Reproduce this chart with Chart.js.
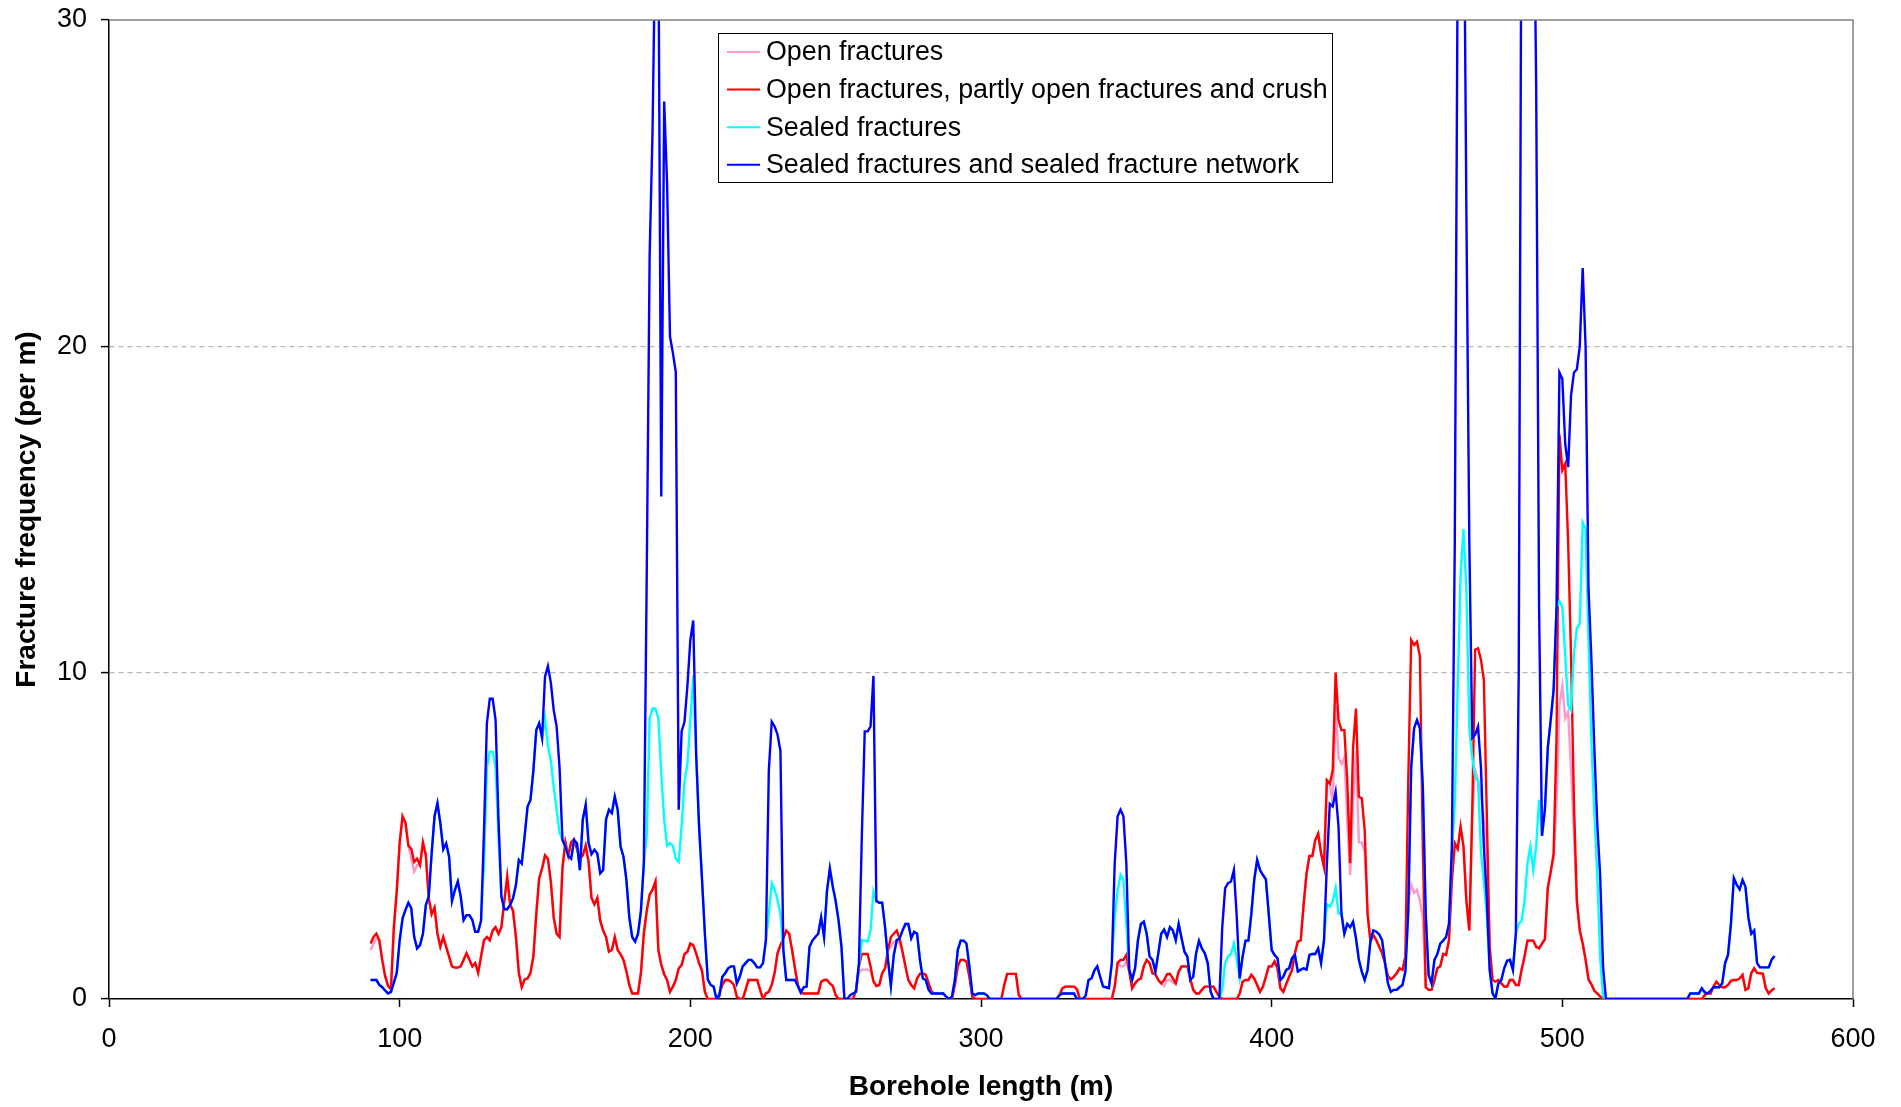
<!DOCTYPE html>
<html>
<head>
<meta charset="utf-8">
<script src="https://cdn.jsdelivr.net/npm/chart.js@4.4.1/dist/chart.umd.min.js"></script>
<style>
html, body { margin: 0; padding: 0; background: #fff; }
#wrap { width: 1901px; height: 1107px; }
</style>
</head>
<body>
<div id="wrap"><canvas id="chart" width="1901" height="1107"></canvas></div>
<script>
// Borehole length (m), one sample per metre
const depths = [
    90, 91, 92, 93, 94, 95, 96, 97, 98, 99,
    100, 101, 102, 103, 104, 105, 106, 107, 108, 109,
    110, 111, 112, 113, 114, 115, 116, 117, 118, 119,
    120, 121, 122, 123, 124, 125, 126, 127, 128, 129,
    130, 131, 132, 133, 134, 135, 136, 137, 138, 139,
    140, 141, 142, 143, 144, 145, 146, 147, 148, 149,
    150, 151, 152, 153, 154, 155, 156, 157, 158, 159,
    160, 161, 162, 163, 164, 165, 166, 167, 168, 169,
    170, 171, 172, 173, 174, 175, 176, 177, 178, 179,
    180, 181, 182, 183, 184, 185, 186, 187, 188, 189,
    190, 191, 192, 193, 194, 195, 196, 197, 198, 199,
    200, 201, 202, 203, 204, 205, 206, 207, 208, 209,
    210, 211, 212, 213, 214, 215, 216, 217, 218, 219,
    220, 221, 222, 223, 224, 225, 226, 227, 228, 229,
    230, 231, 232, 233, 234, 235, 236, 237, 238, 239,
    240, 241, 242, 243, 244, 245, 246, 247, 248, 249,
    250, 251, 252, 253, 254, 255, 256, 257, 258, 259,
    260, 261, 262, 263, 264, 265, 266, 267, 268, 269,
    270, 271, 272, 273, 274, 275, 276, 277, 278, 279,
    280, 281, 282, 283, 284, 285, 286, 287, 288, 289,
    290, 291, 292, 293, 294, 295, 296, 297, 298, 299,
    300, 301, 302, 303, 304, 305, 306, 307, 308, 309,
    310, 311, 312, 313, 314, 315, 316, 317, 318, 319,
    320, 321, 322, 323, 324, 325, 326, 327, 328, 329,
    330, 331, 332, 333, 334, 335, 336, 337, 338, 339,
    340, 341, 342, 343, 344, 345, 346, 347, 348, 349,
    350, 351, 352, 353, 354, 355, 356, 357, 358, 359,
    360, 361, 362, 363, 364, 365, 366, 367, 368, 369,
    370, 371, 372, 373, 374, 375, 376, 377, 378, 379,
    380, 381, 382, 383, 384, 385, 386, 387, 388, 389,
    390, 391, 392, 393, 394, 395, 396, 397, 398, 399,
    400, 401, 402, 403, 404, 405, 406, 407, 408, 409,
    410, 411, 412, 413, 414, 415, 416, 417, 418, 419,
    420, 421, 422, 423, 424, 425, 426, 427, 428, 429,
    430, 431, 432, 433, 434, 435, 436, 437, 438, 439,
    440, 441, 442, 443, 444, 445, 446, 447, 448, 449,
    450, 451, 452, 453, 454, 455, 456, 457, 458, 459,
    460, 461, 462, 463, 464, 465, 466, 467, 468, 469,
    470, 471, 472, 473, 474, 475, 476, 477, 478, 479,
    480, 481, 482, 483, 484, 485, 486, 487, 488, 489,
    490, 491, 492, 493, 494, 495, 496, 497, 498, 499,
    500, 501, 502, 503, 504, 505, 506, 507, 508, 509,
    510, 511, 512, 513, 514, 515, 516, 517, 518, 519,
    520, 521, 522, 523, 524, 525, 526, 527, 528, 529,
    530, 531, 532, 533, 534, 535, 536, 537, 538, 539,
    540, 541, 542, 543, 544, 545, 546, 547, 548, 549,
    550, 551, 552, 553, 554, 555, 556, 557, 558, 559,
    560, 561, 562, 563, 564, 565, 566, 567, 568, 569,
    570, 571, 572, 573
];

// Open fractures (pink)
const openFractures = [
    1.5, 1.7, 1.85, 1.8, 1.2, 0.7, 0.4, 0.3, 2.2, 3.3,
    4.8, 5.6, 5.4, 4.7, 4.3, 3.9, 4.1, 4.1, 4.8, 4.4,
    3.1, 2.6, 2.8, 2.0, 1.6, 1.9, 1.6, 1.3, 1.0, 0.96,
    0.96, 1.0, 1.2, 1.4, 1.2, 1.0, 1.1, 0.8, 1.3, 1.8,
    1.9, 1.8, 2.1, 2.2, 2.0, 2.2, 3.0, 3.75, 2.9, 2.7,
    1.9, 0.8, 0.36, 0.6, 0.63, 0.8, 1.3, 2.6, 3.7, 4.0,
    4.4, 4.3, 3.6, 2.5, 2.0, 1.9, 4.0, 4.8, 4.4, 4.8,
    4.9, 4.6, 4.3, 4.4, 4.7, 4.2, 3.1, 2.9, 3.1, 2.4,
    2.1, 1.9, 1.45, 1.5, 1.9, 1.5, 1.37, 1.2, 0.85, 0.43,
    0.17, 0.17, 0.17, 0.8, 2.0, 2.7, 3.2, 3.35, 3.6, 1.5,
    1.05, 0.76, 0.58, 0.22, 0.38, 0.58, 0.94, 1.04, 1.38, 1.45,
    1.7, 1.65, 1.4, 1.1, 0.87, 0.22, 0, 0, 0, 0,
    0.17, 0.43, 0.58, 0.58, 0.53, 0.43, 0.07, 0, 0, 0.28,
    0.58, 0.58, 0.58, 0.58, 0.28, 0, 0.17, 0.22, 0.43, 0.8,
    1.4, 1.65, 1.86, 2.1, 2.0, 1.5, 0.94, 0.43, 0.2, 0.17,
    0.17, 0.17, 0.17, 0.17, 0.17, 0.53, 0.58, 0.58, 0.48, 0.4,
    0.12, 0, 0, 0, 0, 0, 0, 0.28, 0.8, 0.9,
    0.9, 0.9, 0.85, 0.54, 0.4, 0.43, 0.79, 0.94, 1.5, 1.6,
    1.75, 1.8, 1.7, 1.45, 1.0, 0.58, 0.43, 0.33, 0.63, 0.77,
    0.79, 0.74, 0.48, 0.22, 0.17, 0.17, 0.17, 0.17, 0.07, 0,
    0, 0.43, 1.0, 1.2, 1.2, 1.15, 0.68, 0.07, 0, 0,
    0, 0, 0, 0, 0, 0, 0, 0, 0.43, 0.77,
    0.77, 0.77, 0.77, 0.12, 0, 0, 0, 0, 0, 0,
    0, 0, 0, 0, 0, 0, 0, 0.12, 0.33, 0.38,
    0.38, 0.38, 0.38, 0.3, 0, 0, 0, 0, 0, 0,
    0, 0, 0, 0, 0, 0, 0.38, 1.1, 1.0, 1.0,
    1.15, 0.84, 0.33, 0.48, 0.58, 0.63, 1.0, 1.2, 1.1, 0.79,
    0.76, 0.58, 0.48, 0.4, 0.58, 0.58, 0.5, 0.48, 0.84, 1.0,
    1.0, 1.0, 0.63, 0.28, 0.17, 0.17, 0.28, 0.38, 0.38, 0.38,
    0.38, 0.22, 0.07, 0, 0, 0, 0, 0, 0, 0.17,
    0.53, 0.58, 0.58, 0.74, 0.63, 0.43, 0.22, 0.38, 0.68, 1.0,
    1.0, 1.15, 0.94, 0.33, 0.22, 0.46, 0.68, 0.89, 1.4, 1.76,
    1.8, 2.9, 3.85, 4.38, 4.38, 4.87, 5.07, 4.46, 4.05, 6.7,
    6.6, 6.0, 9.0, 7.4, 7.2, 7.4, 5.5, 3.8, 6.0, 7.6,
    4.8, 4.8, 4.5, 2.6, 1.76, 1.96, 1.8, 1.6, 1.4, 1.1,
    0.7, 0.6, 0.68, 0.79, 0.94, 0.89, 1.3, 3.0, 3.5, 3.25,
    3.35, 3.0, 2.5, 0.36, 0.28, 0.28, 0.58, 0.94, 1.0, 1.38,
    1.35, 1.8, 3.65, 4.77, 4.6, 5.28, 4.67, 3.0, 2.1, 5.7,
    7.0, 6.7, 6.2, 5.5, 4.5, 1.6, 0.58, 0.53, 0.58, 0.48,
    0.38, 0.38, 0.58, 0.58, 0.43, 0.43, 0.9, 1.3, 1.79, 1.79,
    1.79, 1.6, 1.55, 1.7, 1.83, 3.4, 3.9, 4.3, 6.0, 9.0,
    9.6, 8.6, 8.8, 7.0, 5.0, 3.0, 2.1, 1.7, 1.2, 0.6,
    0.45, 0.25, 0.17, 0.08, 0, 0, 0, 0, 0, 0,
    0, 0, 0, 0, 0, 0, 0, 0, 0, 0,
    0, 0, 0, 0, 0, 0, 0, 0, 0, 0,
    0, 0, 0, 0, 0, 0, 0, 0, 0, 0.12,
    0.17, 0.17, 0.38, 0.53, 0.43, 0.36, 0.36, 0.43, 0.56, 0.58,
    0.58, 0.63, 0.74, 0.28, 0.33, 0.79, 0.94, 0.8, 0.79, 0.77,
    0.33, 0.17, 0.26, 0.33
];

// Open fractures, partly open fractures and crush (red)
const openPartlyCrush = [
    1.7, 1.9, 2.0, 1.8, 1.2, 0.7, 0.4, 0.3, 2.2, 3.3,
    4.8, 5.6, 5.4, 4.7, 4.6, 4.2, 4.3, 4.1, 4.8, 4.4,
    3.1, 2.6, 2.8, 2.0, 1.6, 1.9, 1.6, 1.3, 1.0, 0.96,
    0.96, 1.0, 1.2, 1.4, 1.2, 1.0, 1.1, 0.8, 1.3, 1.8,
    1.9, 1.8, 2.1, 2.2, 2.0, 2.2, 3.0, 3.75, 2.9, 2.7,
    1.9, 0.8, 0.36, 0.6, 0.63, 0.8, 1.3, 2.6, 3.7, 4.0,
    4.4, 4.3, 3.6, 2.5, 2.0, 1.9, 4.0, 4.8, 4.4, 4.8,
    4.9, 4.6, 4.3, 4.4, 4.7, 4.2, 3.1, 2.9, 3.1, 2.4,
    2.1, 1.9, 1.45, 1.5, 1.9, 1.5, 1.37, 1.2, 0.85, 0.43,
    0.17, 0.17, 0.17, 0.8, 2.0, 2.7, 3.2, 3.35, 3.6, 1.5,
    1.05, 0.76, 0.58, 0.22, 0.38, 0.58, 0.94, 1.04, 1.38, 1.45,
    1.7, 1.65, 1.4, 1.1, 0.87, 0.22, 0, 0, 0, 0,
    0.17, 0.43, 0.58, 0.58, 0.53, 0.43, 0.07, 0, 0, 0.28,
    0.58, 0.58, 0.58, 0.58, 0.28, 0, 0.17, 0.22, 0.43, 0.8,
    1.4, 1.65, 1.86, 2.1, 2.0, 1.5, 0.94, 0.43, 0.2, 0.17,
    0.17, 0.17, 0.17, 0.17, 0.17, 0.53, 0.58, 0.58, 0.48, 0.4,
    0.12, 0, 0, 0, 0, 0, 0, 0.28, 1.0, 1.38,
    1.38, 1.38, 1.0, 0.54, 0.4, 0.43, 0.79, 0.94, 1.5, 1.9,
    2.0, 2.1, 1.86, 1.45, 1.0, 0.58, 0.43, 0.33, 0.63, 0.77,
    0.79, 0.74, 0.48, 0.22, 0.17, 0.17, 0.17, 0.17, 0.07, 0,
    0, 0.43, 1.0, 1.2, 1.2, 1.15, 0.68, 0.07, 0, 0,
    0, 0, 0, 0, 0, 0, 0, 0, 0.43, 0.77,
    0.77, 0.77, 0.77, 0.12, 0, 0, 0, 0, 0, 0,
    0, 0, 0, 0, 0, 0, 0, 0.12, 0.33, 0.38,
    0.38, 0.38, 0.38, 0.3, 0, 0, 0, 0, 0, 0,
    0, 0, 0, 0, 0, 0, 0.38, 1.1, 1.2, 1.2,
    1.35, 0.84, 0.33, 0.48, 0.58, 0.63, 1.0, 1.2, 1.1, 0.79,
    0.76, 0.58, 0.48, 0.58, 0.76, 0.77, 0.63, 0.48, 0.84, 1.0,
    1.0, 1.0, 0.63, 0.28, 0.17, 0.17, 0.28, 0.38, 0.38, 0.38,
    0.38, 0.22, 0.07, 0, 0, 0, 0, 0, 0, 0.17,
    0.53, 0.58, 0.58, 0.74, 0.63, 0.43, 0.22, 0.38, 0.68, 1.0,
    1.0, 1.15, 0.94, 0.33, 0.22, 0.46, 0.68, 0.89, 1.4, 1.76,
    1.8, 2.9, 3.85, 4.38, 4.38, 4.87, 5.07, 4.46, 4.05, 6.7,
    6.6, 7.0, 10.0, 8.55, 8.24, 8.24, 6.7, 4.16, 7.7, 8.9,
    6.2, 6.15, 5.18, 2.6, 1.76, 1.96, 1.8, 1.6, 1.4, 1.1,
    0.7, 0.6, 0.68, 0.79, 0.94, 0.89, 1.3, 6.7, 11.0, 10.85,
    10.95, 10.5, 4.67, 0.36, 0.28, 0.28, 0.58, 0.94, 1.0, 1.38,
    1.35, 1.8, 3.65, 4.77, 4.6, 5.28, 4.67, 3.0, 2.1, 5.7,
    10.7, 10.75, 10.4, 9.78, 5.7, 1.6, 0.58, 0.53, 0.58, 0.48,
    0.38, 0.38, 0.58, 0.58, 0.43, 0.43, 0.9, 1.3, 1.79, 1.79,
    1.79, 1.6, 1.55, 1.7, 1.83, 3.4, 3.9, 4.46, 8.0, 17.3,
    16.2, 16.4, 14.0, 10.5, 6.0, 3.0, 2.1, 1.7, 1.2, 0.6,
    0.45, 0.25, 0.17, 0.08, 0, 0, 0, 0, 0, 0,
    0, 0, 0, 0, 0, 0, 0, 0, 0, 0,
    0, 0, 0, 0, 0, 0, 0, 0, 0, 0,
    0, 0, 0, 0, 0, 0, 0, 0, 0, 0.12,
    0.17, 0.17, 0.38, 0.53, 0.43, 0.36, 0.36, 0.43, 0.56, 0.58,
    0.58, 0.63, 0.74, 0.28, 0.33, 0.79, 0.94, 0.8, 0.79, 0.77,
    0.33, 0.17, 0.26, 0.33
];

// Sealed fractures (cyan)
const sealedFractures = [
    0.58, 0.58, 0.58, 0.43, 0.36, 0.26, 0.17, 0.22, 0.5, 0.8,
    1.8, 2.47, 2.73, 2.95, 2.78, 1.9, 1.55, 1.65, 2.0, 2.88,
    3.14, 4.46, 5.6, 6.0, 5.38, 4.59, 4.77, 4.36, 3.0, 3.34,
    3.6, 3.14, 2.42, 2.57, 2.57, 2.42, 2.06, 2.06, 2.4, 4.15,
    7.1, 7.58, 7.58, 7.1, 5.0, 3.14, 2.75, 2.75, 2.88, 3.08,
    3.5, 4.26, 4.15, 5.0, 5.9, 6.1, 7.0, 8.24, 8.45, 8.0,
    8.6, 7.76, 7.3, 6.5, 5.8, 5.1, 4.87, 4.67, 4.38, 4.3,
    4.87, 4.77, 3.95, 5.5, 5.95, 4.77, 4.44, 4.57, 4.46, 3.85,
    3.95, 5.5, 5.8, 5.7, 6.2, 5.8, 4.67, 4.36, 3.65, 2.5,
    1.9, 1.76, 2.0, 2.7, 4.15, 5.0, 8.6, 8.9, 8.9, 8.6,
    6.9, 5.5, 4.7, 4.77, 4.7, 4.3, 4.2, 5.3, 6.66, 7.2,
    8.55, 9.9, 7.5, 5.3, 3.7, 2.0, 0.6, 0.43, 0.38, 0,
    0.1, 0.68, 0.79, 0.94, 1.0, 1.0, 0.48, 0.68, 1.0, 1.1,
    1.2, 1.2, 1.1, 0.97, 0.97, 1.1, 1.8, 2.6, 3.55, 3.35,
    3.05, 2.6, 1.5, 0.58, 0.58, 0.58, 0.58, 0.4, 0.2, 0.36,
    0.38, 1.6, 1.79, 1.9, 2.0, 2.5, 1.9, 3.3, 4.0, 3.45,
    3.0, 2.4, 1.6, 0, 0, 0.12, 0.17, 0.22, 1.0, 1.8,
    1.79, 1.76, 2.1, 3.3, 3.0, 2.95, 2.95, 2.2, 1.2, 0.4,
    1.35, 1.8, 1.86, 2.1, 2.3, 2.3, 1.86, 2.06, 2.0, 1.2,
    0.63, 0.58, 0.28, 0.17, 0.17, 0.17, 0.17, 0.17, 0.07, 0,
    0.07, 0.58, 1.5, 1.79, 1.79, 1.7, 1.0, 0.17, 0.12, 0.17,
    0.17, 0.17, 0.12, 0, 0, 0, 0, 0, 0, 0,
    0, 0, 0, 0, 0, 0, 0, 0, 0, 0,
    0, 0, 0, 0, 0, 0, 0, 0.12, 0.17, 0.17,
    0.17, 0.17, 0.17, 0, 0, 0, 0.1, 0.58, 0.63, 0.87,
    1.0, 0.68, 0.38, 0.36, 0.33, 1.1, 2.5, 3.3, 3.8, 3.65,
    2.3, 0.9, 0.58, 0.94, 1.8, 2.3, 2.37, 2.0, 1.3, 1.2,
    0.84, 1.4, 2.0, 2.13, 1.9, 2.2, 2.1, 1.8, 2.3, 1.86,
    1.45, 1.3, 0.58, 0.68, 1.4, 1.78, 1.55, 1.4, 1.1, 0.22,
    0, 0, 0, 0.3, 1.1, 1.3, 1.38, 1.7, 1.2, 0.63,
    1.3, 1.79, 1.79, 2.6, 3.65, 4.26, 3.95, 3.8, 3.67, 2.6,
    1.5, 1.35, 1.25, 0.58, 0.68, 0.89, 0.94, 1.25, 1.35, 0.84,
    0.9, 0.94, 0.9, 1.35, 1.38, 1.38, 1.55, 1.1, 1.8, 2.9,
    2.83, 3.0, 3.4, 2.62, 2.62, 2.0, 2.3, 2.2, 2.37, 1.86,
    1.2, 0.84, 0.58, 0.89, 1.8, 2.1, 2.06, 1.98, 1.8, 1.1,
    0.48, 0.22, 0.28, 0.28, 0.36, 0.43, 0.84, 2.7, 7.1, 8.3,
    8.55, 8.3, 6.5, 2.6, 0.74, 0.48, 1.2, 1.38, 1.7, 1.79,
    1.9, 2.3, 4.5, 6.0, 9.5, 13.0, 14.4, 12.5, 8.3, 7.4,
    6.8, 6.7, 4.5, 3.6, 2.6, 0.89, 0.17, 0.02, 0.48, 0.58,
    0.94, 1.17, 1.2, 0.89, 2.0, 2.3, 2.4, 3.0, 4.16, 4.67,
    3.95, 4.67, 6.1, 5.0, 5.8, 7.7, 8.55, 9.47, 12.0, 12.2,
    12.0, 10.5, 9.0, 8.85, 10.6, 11.36, 11.5, 14.6, 14.4, 11.0,
    7.9, 5.7, 3.85, 1.3, 0.07, 0, 0, 0, 0, 0,
    0, 0, 0, 0, 0, 0, 0, 0, 0, 0,
    0, 0, 0, 0, 0, 0, 0, 0, 0, 0,
    0, 0, 0, 0, 0.17, 0.17, 0.17, 0.17, 0.33, 0.2,
    0.17, 0.25, 0.36, 0.36, 0.36, 0.48, 1.1, 1.35, 2.3, 3.7,
    3.5, 3.36, 3.65, 3.44, 2.5, 2.0, 2.1, 1.1, 0.97, 0.97,
    0.97, 0.97, 1.2, 1.32
];

// Sealed fractures and sealed fracture network (blue)
const sealedNetwork = [
    0.58, 0.58, 0.58, 0.43, 0.36, 0.26, 0.17, 0.22, 0.5, 0.8,
    1.8, 2.47, 2.73, 2.95, 2.78, 1.9, 1.55, 1.65, 2.0, 2.88,
    3.14, 4.46, 5.6, 6.0, 5.38, 4.59, 4.77, 4.36, 3.0, 3.34,
    3.6, 3.14, 2.42, 2.57, 2.57, 2.42, 2.06, 2.06, 2.4, 5.1,
    8.45, 9.2, 9.2, 8.55, 5.5, 3.14, 2.75, 2.75, 2.88, 3.08,
    3.5, 4.26, 4.15, 5.0, 5.9, 6.1, 7.0, 8.24, 8.45, 8.0,
    9.88, 10.2, 9.7, 8.85, 8.35, 7.1, 4.87, 4.67, 4.38, 4.3,
    4.87, 4.77, 3.95, 5.5, 5.95, 4.77, 4.44, 4.57, 4.46, 3.85,
    3.95, 5.5, 5.8, 5.7, 6.2, 5.8, 4.67, 4.36, 3.65, 2.5,
    1.9, 1.76, 2.0, 2.7, 4.15, 13.0, 22.8, 26.6, 33, 33,
    15.4, 27.5, 25.0, 20.3, 19.8, 19.2, 5.8, 8.2, 8.5, 9.6,
    11.0, 11.6, 7.5, 5.3, 3.7, 2.0, 0.6, 0.43, 0.38, 0,
    0.1, 0.68, 0.79, 0.94, 1.0, 1.0, 0.48, 0.68, 1.0, 1.1,
    1.2, 1.2, 1.1, 0.97, 0.97, 1.1, 1.8, 7.0, 8.5, 8.35,
    8.1, 7.6, 1.5, 0.58, 0.58, 0.58, 0.58, 0.4, 0.2, 0.36,
    0.38, 1.6, 1.79, 1.9, 2.0, 2.5, 1.9, 3.3, 4.0, 3.45,
    3.0, 2.4, 1.6, 0, 0, 0.12, 0.17, 0.22, 1.1, 5.0,
    8.2, 8.2, 8.35, 9.9, 3.0, 2.95, 2.95, 2.2, 1.2, 0.4,
    1.35, 1.8, 1.86, 2.1, 2.3, 2.3, 1.86, 2.06, 2.0, 1.2,
    0.63, 0.58, 0.28, 0.17, 0.17, 0.17, 0.17, 0.17, 0.07, 0,
    0.07, 0.58, 1.5, 1.79, 1.79, 1.7, 1.0, 0.17, 0.12, 0.17,
    0.17, 0.17, 0.12, 0, 0, 0, 0, 0, 0, 0,
    0, 0, 0, 0, 0, 0, 0, 0, 0, 0,
    0, 0, 0, 0, 0, 0, 0, 0.12, 0.17, 0.17,
    0.17, 0.17, 0.17, 0, 0, 0, 0.1, 0.58, 0.63, 0.87,
    1.0, 0.68, 0.38, 0.36, 0.33, 1.1, 4.16, 5.6, 5.8, 5.6,
    4.16, 0.9, 0.58, 0.94, 1.8, 2.3, 2.37, 2.0, 1.3, 1.2,
    0.84, 1.4, 2.0, 2.13, 1.9, 2.2, 2.1, 1.8, 2.3, 1.86,
    1.45, 1.3, 0.58, 0.68, 1.4, 1.78, 1.55, 1.4, 1.1, 0.22,
    0, 0, 0, 2.2, 3.4, 3.55, 3.6, 3.95, 2.5, 0.63,
    1.3, 1.79, 1.79, 2.6, 3.65, 4.26, 3.95, 3.8, 3.67, 2.6,
    1.5, 1.35, 1.25, 0.58, 0.68, 0.89, 0.94, 1.25, 1.35, 0.84,
    0.9, 0.94, 0.9, 1.35, 1.38, 1.38, 1.55, 1.1, 1.8, 4.16,
    5.98, 5.9, 6.35, 5.28, 2.62, 2.0, 2.3, 2.2, 2.37, 1.86,
    1.2, 0.84, 0.58, 0.89, 1.8, 2.1, 2.06, 1.98, 1.8, 1.1,
    0.48, 0.22, 0.28, 0.28, 0.36, 0.43, 0.84, 2.7, 7.1, 8.3,
    8.55, 8.3, 6.5, 2.6, 0.74, 0.48, 1.2, 1.38, 1.7, 1.79,
    1.9, 2.3, 4.67, 14, 32, 36, 36, 24, 14, 8.0,
    8.1, 8.35, 7.1, 4.67, 3.1, 0.89, 0.17, 0.02, 0.48, 0.58,
    0.94, 1.17, 1.2, 0.89, 2.0, 10, 36, 36, 36, 36,
    36, 28, 12, 5.0, 5.8, 7.7, 8.55, 9.47, 12, 19.2,
    19.0, 17, 16.3, 18.5, 19.2, 19.3, 20, 22.4, 20, 12.6,
    10.4, 7.7, 5.4, 3.8, 1.0, 0, 0, 0, 0, 0,
    0, 0, 0, 0, 0, 0, 0, 0, 0, 0,
    0, 0, 0, 0, 0, 0, 0, 0, 0, 0,
    0, 0, 0, 0, 0.17, 0.17, 0.17, 0.17, 0.33, 0.2,
    0.17, 0.25, 0.36, 0.36, 0.36, 0.48, 1.1, 1.35, 2.3, 3.7,
    3.5, 3.36, 3.65, 3.44, 2.5, 2.0, 2.1, 1.1, 0.97, 0.97,
    0.97, 0.97, 1.2, 1.32
];

const seriesLabels = [
    'Open fractures',
    'Open fractures, partly open fractures and crush',
    'Sealed fractures',
    'Sealed fractures and sealed fracture network'
];
const seriesColors = ['#ff99cc', '#ff0000', '#00ffff', '#0000ff'];

const xTicks = [0, 100, 200, 300, 400, 500, 600];
const yTicks = [0, 10, 20, 30];

const FONT = '"Liberation Sans", Arial, sans-serif';
Chart.defaults.font.family = FONT;
Chart.defaults.color = '#000';

// Punkte für die Linien bauen
function toPoints(values) {
    return depths.map((d, i) => ({ x: d, y: values[i] }));
}

// Rahmen oben und rechts (grau)
const framePlugin = {
    id: 'frame',
    afterDraw(chart) {
        const { ctx, chartArea: a } = chart;
        ctx.save();
        ctx.strokeStyle = '#808080';
        ctx.lineWidth = 1.5;
        ctx.beginPath();
        ctx.moveTo(a.left, a.top);
        ctx.lineTo(a.right, a.top);
        ctx.lineTo(a.right, a.bottom);
        ctx.stroke();
        ctx.restore();
    }
};

// Legende mit Kasten
const boxLegendPlugin = {
    id: 'boxLegend',
    afterDraw(chart) {
        const ctx = chart.ctx;
        const box = { left: 718, top: 33, right: 1332, bottom: 182 };
        ctx.save();
        ctx.fillStyle = '#fff';
        ctx.fillRect(box.left, box.top, box.right - box.left, box.bottom - box.top);
        ctx.strokeStyle = '#000';
        ctx.lineWidth = 1;
        ctx.strokeRect(box.left + 0.5, box.top + 0.5, box.right - box.left, box.bottom - box.top);
        ctx.font = '26.8px ' + FONT;
        ctx.textBaseline = 'middle';
        ctx.textAlign = 'left';
        chart.data.datasets.forEach((ds, i) => {
            const y = 52 + i * 37.6;
            ctx.strokeStyle = ds.borderColor;
            ctx.lineWidth = 2;
            ctx.beginPath();
            ctx.moveTo(727, y);
            ctx.lineTo(760, y);
            ctx.stroke();
            ctx.fillStyle = '#000';
            ctx.fillText(ds.label, 766, y + 1);
        });
        ctx.restore();
    }
};

const allSeries = [openFractures, openPartlyCrush, sealedFractures, sealedNetwork];

new Chart(document.getElementById('chart').getContext('2d'), {
    type: 'line',
    data: {
        datasets: allSeries.map((values, i) => ({
            label: seriesLabels[i],
            data: toPoints(values),
            borderColor: seriesColors[i],
            backgroundColor: seriesColors[i],
            borderWidth: 2.4,
            pointRadius: 0,
            tension: 0,
            fill: false,
            order: 4 - i
        }))
    },
    options: {
        responsive: false,
        animation: false,
        devicePixelRatio: 1,
        layout: { padding: { top: 20, right: 48, left: 0, bottom: 0 } },
        plugins: {
            legend: { display: false },
            tooltip: { enabled: false }
        },
        scales: {
            x: {
                type: 'linear',
                min: 0,
                max: 600,
                afterFit(scale) {
                    scale.height = 108;
                    scale.paddingLeft = 0;
                    scale.paddingRight = 0;
                },
                afterBuildTicks(scale) { scale.ticks = xTicks.map(v => ({ value: v })); },
                grid: { drawOnChartArea: false, drawTicks: true, tickLength: 8, tickColor: '#000', tickWidth: 1.5 },
                border: { display: true, color: '#000', width: 1.5 },
                ticks: { font: { size: 27 }, color: '#000', padding: 16, maxRotation: 0, autoSkip: false },
                title: {
                    display: true,
                    text: 'Borehole length (m)',
                    font: { size: 28, weight: 'bold' },
                    color: '#000',
                    padding: { top: 0, bottom: 3 }
                }
            },
            y: {
                min: 0,
                max: 30,
                afterFit(scale) {
                    scale.width = 109;
                    scale.paddingTop = 0;
                    scale.paddingBottom = 0;
                },
                afterBuildTicks(scale) { scale.ticks = yTicks.map(v => ({ value: v })); },
                grid: {
                    color: c => (c.tick && (c.tick.value === 10 || c.tick.value === 20)) ? '#b8b8b8' : 'rgba(0,0,0,0)',
                    lineWidth: 1.2,
                    tickLength: 8,
                    tickColor: '#000',
                    tickWidth: 1.5
                },
                border: { display: true, color: '#000', width: 1.5, dash: [5, 4] },
                ticks: { font: { size: 27 }, color: '#000', padding: 14 },
                title: {
                    display: true,
                    text: 'Fracture frequency (per m)',
                    font: { size: 28, weight: 'bold' },
                    color: '#000',
                    padding: { top: 10, bottom: 0 }
                }
            }
        }
    },
    plugins: [framePlugin, boxLegendPlugin]
});
</script>
</body>
</html>
